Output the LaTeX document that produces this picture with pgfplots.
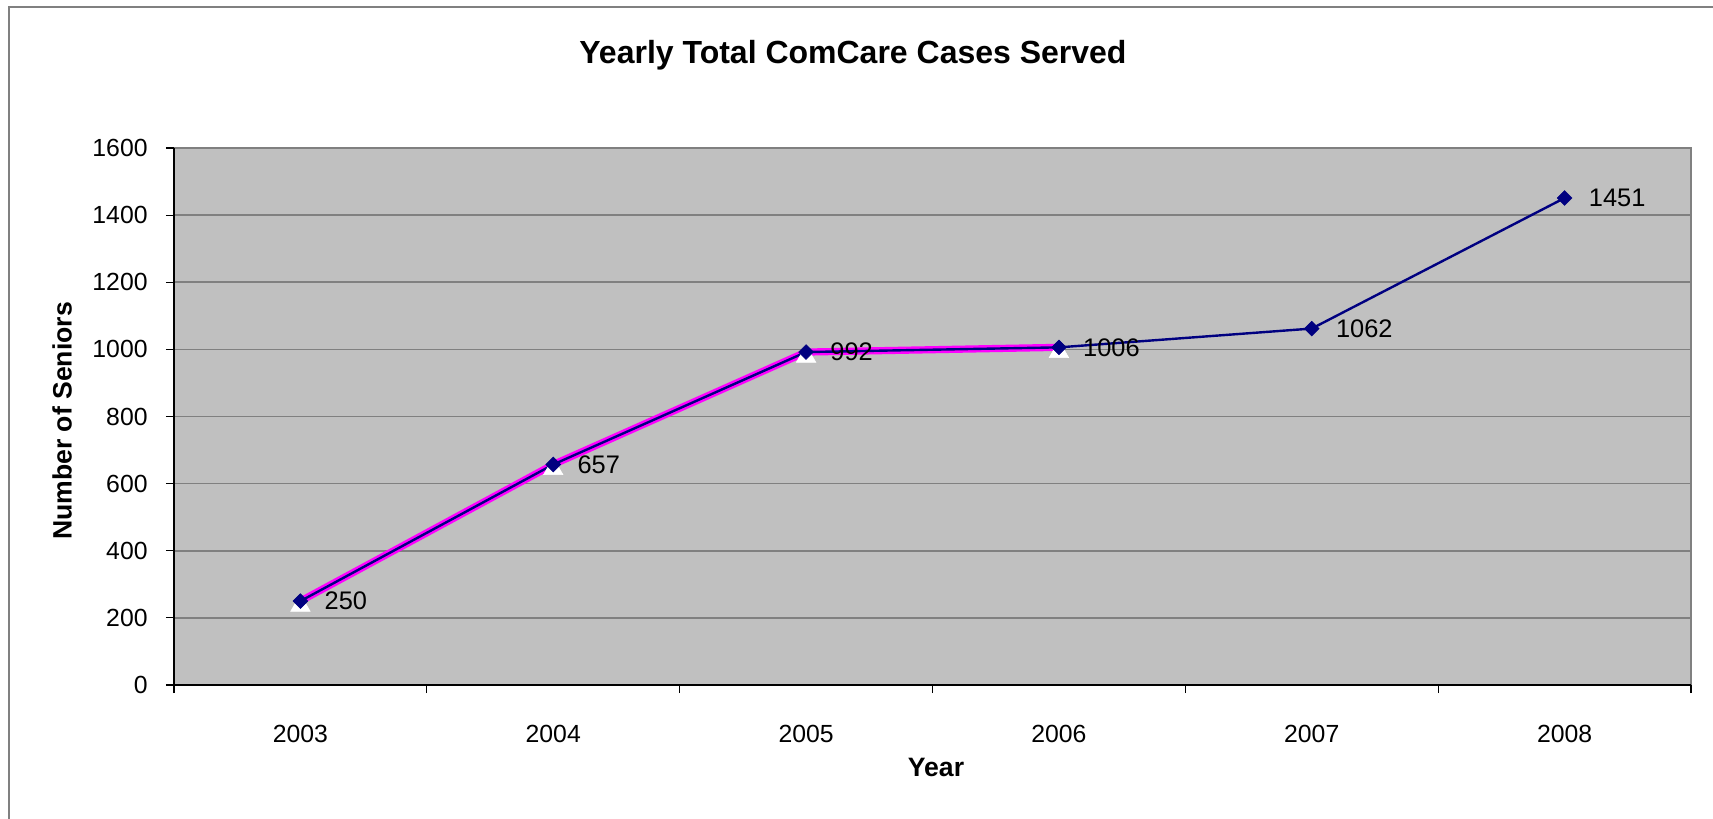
\documentclass[border=0pt]{standalone}
\usepackage{fontspec}
\setmainfont{Liberation Sans}
\usepackage{pgfplots}
\pgfplotsset{compat=1.18}
\definecolor{navyc}{HTML}{000080}
\definecolor{magc}{HTML}{FF00FF}
\definecolor{plotbg}{HTML}{C0C0C0}
\definecolor{gridc}{HTML}{808080}
\begin{document}
\begin{tikzpicture}
\path[use as bounding box] (-87pt,-67pt) rectangle (769.5pt,342.5pt);
\draw[gridc, line width=0.8pt] (-82.5pt,-90pt) rectangle (790pt,339pt);
\begin{axis}[
  at={(0,0)}, anchor=south west,
  scale only axis, width=758.5pt, height=268.5pt,
  xmin=-0.5, xmax=5.5, ymin=0, ymax=1600,
  axis x line*=bottom, axis y line*=left,
  axis line style={-, black, line width=1pt},
  axis background/.style={fill=plotbg, draw=gridc, line width=1pt},
  tick align=outside,
  major tick length=4pt,
  tick style={black, line width=0.6pt},
  xtick={-0.5,0.5,1.5,2.5,3.5,4.5,5.5},
  xticklabels={},
  extra x ticks={0,1,2,3,4,5},
  extra x tick labels={2003,2004,2005,2006,2007,2008},
  extra x tick style={tick style={draw=none}, grid=none},
  ytick={0,200,...,1600},
  ymajorgrids,
  grid style={gridc, line width=0.8pt},
  /pgf/number format/assume math mode=true,
  /pgf/number format/1000 sep={},
  ticklabel style={font=\fontsize{12.4}{14}\selectfont},
  yticklabel style={inner sep=0pt, anchor=east, xshift=-9pt},
  xticklabel style={inner sep=0pt, anchor=center, yshift=-20.5pt},
  clip=false,
]
\addplot[magc, line width=3.6pt, mark=triangle*,
  mark size=5.6pt,
  mark options={fill=white, draw=white, line width=0.3pt, yshift=-2.3pt}]
  coordinates {(0,250) (1,657) (2,992) (3,1006)};
\addplot[navyc, line width=1.2pt, mark=square*,
  mark size=2.6pt,
  mark options={rotate=45, fill=navyc, draw=navyc, line width=0.3pt},
  nodes near coords,
  every node near coord/.append style={anchor=west, inner sep=0pt, xshift=12pt, black,
    font=\fontsize{12.7}{14}\selectfont}]
  coordinates {(0,250) (1,657) (2,992) (3,1006) (4,1062) (5,1451)};
\end{axis}
\node[font=\fontsize{16}{19}\selectfont\bfseries] at (339.5pt,315pt) {Yearly Total ComCare Cases Served};
\node[font=\fontsize{13.3}{16}\selectfont\bfseries, rotate=90] at (-56pt,132pt) {Number of Seniors};
\node[font=\fontsize{13.3}{16}\selectfont\bfseries] at (381pt,-41pt) {Year};
\end{tikzpicture}
\end{document}
